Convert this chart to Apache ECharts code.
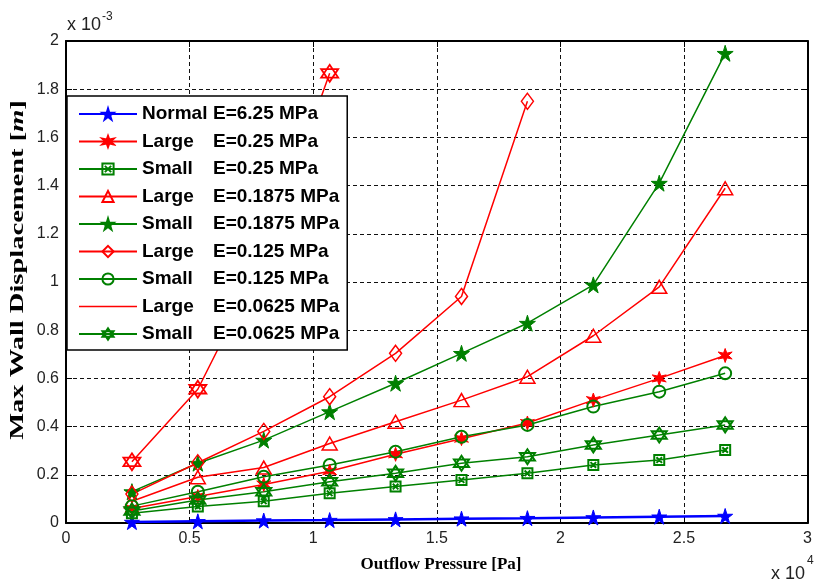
<!DOCTYPE html>
<html>
<head>
<meta charset="utf-8">
<script src="https://cdn.jsdelivr.net/npm/echarts@6/dist/echarts.min.js"></script>
<style>
  html, body { margin: 0; padding: 0; background: #fff; }
  #chart { width: 815px; height: 585px; }
</style>
</head>
<body>
<div id="chart"></div>
<script>
// Outflow pressure at each simulated step (units of 1e4 Pa)
const pressure = [0.2667, 0.5333, 0.8, 1.0667, 1.3333, 1.6, 1.8667, 2.1333, 2.4, 2.6667];

// Maximum wall displacement (units of 1e-3 m)
const normalE625   = [0.004, 0.007, 0.010, 0.012, 0.015, 0.018, 0.020, 0.023, 0.026, 0.029];
const largeE025    = [0.06, 0.11, 0.16, 0.215, 0.285, 0.35, 0.415, 0.51, 0.60, 0.695];
const smallE025    = [0.04, 0.068, 0.09, 0.123, 0.151, 0.178, 0.206, 0.241, 0.261, 0.303];
const largeE01875  = [0.09, 0.19, 0.23, 0.33, 0.42, 0.51, 0.607, 0.777, 0.98, 1.389];
const smallE01875  = [0.13, 0.248, 0.344, 0.462, 0.58, 0.704, 0.829, 0.988, 1.41, 1.949];
const largeE0125   = [0.12, 0.25, 0.38, 0.524, 0.704, 0.94, 1.75];
const smallE0125   = [0.07, 0.13, 0.192, 0.241, 0.296, 0.358, 0.407, 0.483, 0.545, 0.621];
const largeE00625  = [0.254, 0.555, 1.1, 1.866];
const smallE00625  = [0.05, 0.095, 0.13, 0.171, 0.206, 0.248, 0.275, 0.324, 0.365, 0.407];

// Legend entries, in plotting order
const seriesNames = [
  'Normal E=6.25 MPa',
  'Large E=0.25 MPa',
  'Small E=0.25 MPa',
  'Large E=0.1875 MPa',
  'Small E=0.1875 MPa',
  'Large E=0.125 MPa',
  'Small E=0.125 MPa',
  'Large E=0.0625 MPa',
  'Small E=0.0625 MPa'
];

// Axis ranges and steps
const xRange = [0, 3, 0.5];
const yRange = [0, 2, 0.2];

const RED = '#ff0000', GREEN = '#008000', BLUE = '#0000ff';

// Marker shapes
const PENTAGRAM = 'path://M50,0 L61,35 L98,35 L68,57 L79,91 L50,70 L21,91 L32,57 L2,35 L39,35 Z';
const HEXAGRAM = 'path://M50,0 L93.3,75 L6.7,75 Z M50,100 L6.7,25 L93.3,25 Z';
const ASTERISK = 'path://M50,0 L60,33 L93,25 L70,50 L93,75 L60,67 L50,100 L40,67 L7,75 L30,50 L7,25 L40,33 Z';
const BOXCROSS = 'path://M0,0 L100,0 L100,100 L0,100 Z M22,22 L78,78 M78,22 L22,78';
const PLAIN_LINE = 'path://M0,0 L58,0 L58,1.5 L0,1.5 Z';

const toPoints = vals => vals.map((v, i) => [pressure[i], v]);

function lineSeries(name, vals, color, opt) {
  return Object.assign({
    name: name,
    type: 'line',
    data: toPoints(vals),
    color: color,
    lineStyle: { color: color, width: 1.5 },
    symbol: 'none',
    symbolSize: 12,
    itemStyle: { color: 'rgba(0,0,0,0)', borderColor: color, borderWidth: 1.5 },
    emphasis: { disabled: true },
    z: 2
  }, opt);
}

const series = [
  lineSeries(seriesNames[0], normalE625, BLUE, {
    lineStyle: { color: BLUE, width: 2.5 },
    symbol: PENTAGRAM, symbolSize: 15,
    itemStyle: { color: BLUE, borderColor: BLUE, borderWidth: 1 }
  }),
  lineSeries(seriesNames[1], largeE025, RED, {
    symbol: ASTERISK, symbolSize: 14,
    itemStyle: { color: RED, borderColor: RED, borderWidth: 1 }
  }),
  lineSeries(seriesNames[2], smallE025, GREEN, {
    symbol: BOXCROSS, symbolSize: 10,
    itemStyle: { color: 'rgba(0,0,0,0)', borderColor: GREEN, borderWidth: 2 }
  }),
  lineSeries(seriesNames[3], largeE01875, RED, {
    symbol: 'triangle', symbolSize: [15, 13]
  }),
  lineSeries(seriesNames[4], smallE01875, GREEN, {
    symbol: PENTAGRAM, symbolSize: 16,
    itemStyle: { color: GREEN, borderColor: GREEN, borderWidth: 1 }
  }),
  lineSeries(seriesNames[5], largeE0125, RED, {
    symbol: 'diamond', symbolSize: [12, 16]
  }),
  lineSeries(seriesNames[6], smallE0125, GREEN, {
    symbol: 'circle', symbolSize: 12,
    itemStyle: { color: 'rgba(0,0,0,0)', borderColor: GREEN, borderWidth: 2 }
  }),
  lineSeries(seriesNames[7], largeE00625, RED, { symbol: 'none' }),
  lineSeries(seriesNames[8], smallE00625, GREEN, {
    symbol: HEXAGRAM, symbolSize: 15,
    itemStyle: { color: 'rgba(0,0,0,0)', borderColor: GREEN, borderWidth: 2 }
  }),
  // markers drawn on the softest large-vessel curve
  {
    name: 'Large E=0.0625 MPa points',
    type: 'scatter',
    data: toPoints(largeE00625),
    symbol: HEXAGRAM,
    symbolSize: 17,
    itemStyle: { color: 'rgba(0,0,0,0)', borderColor: RED, borderWidth: 1.8, opacity: 1 },
    emphasis: { disabled: true },
    z: 2
  }
];

// the softest large-vessel entry is shown in the legend as a bare line
const legendData = seriesNames.map(n => n === 'Large E=0.0625 MPa'
  ? { name: n, icon: PLAIN_LINE, itemStyle: { color: RED, borderWidth: 0 } }
  : { name: n });

const labelFont = { fontFamily: 'Liberation Sans', fontSize: 16, color: '#222' };
const fmt = v => String(+(+v).toFixed(2));

function axisBase(range, pos, showLabels) {
  return {
    type: 'value',
    position: pos,
    min: range[0], max: range[1], interval: range[2],
    axisLine: { show: true, onZero: false, lineStyle: { color: '#000', width: 2 } },
    axisTick: { show: true, inside: true, length: 6, lineStyle: { color: '#000', width: 1 } },
    axisLabel: Object.assign({ show: showLabels, margin: 8, formatter: fmt, showMinLabel: true, showMaxLabel: true }, labelFont),
    splitLine: showLabels
      ? { show: true, lineStyle: { color: '#111', width: 1, type: [4, 3] } }
      : { show: false }
  };
}

const chart = echarts.init(document.getElementById('chart'), null, { renderer: 'canvas' });

chart.setOption({
  animation: false,
  backgroundColor: '#fff',
  grid: { left: 66, right: 2, top: 41, bottom: 62 },
  xAxis: [axisBase(xRange, 'bottom', true), axisBase(xRange, 'top', false)],
  yAxis: [
    Object.assign(axisBase(yRange, 'left', true), { axisLabel: Object.assign({ show: true, margin: 7, formatter: fmt, showMinLabel: true, showMaxLabel: true }, labelFont) }),
    axisBase(yRange, 'right', false)
  ],
  legend: {
    data: legendData,
    orient: 'vertical',
    left: 67,
    top: 96,
    z: 10,
    padding: [7, 8, 5, 11],
    itemWidth: 58,
    itemHeight: 14,
    itemGap: 5.5,
    backgroundColor: '#fff',
    borderColor: '#000',
    borderWidth: 1.5,
    borderRadius: 0,
    selectedMode: false,
    formatter: name => {
      const cut = name.indexOf(' ');
      return '{n|' + name.slice(0, cut) + '}{e|' + name.slice(cut + 1) + '}';
    },
    textStyle: {
      fontFamily: 'Liberation Sans', fontWeight: 'bold', fontSize: 19, color: '#000', lineHeight: 22,
      rich: {
        n: { width: 71, fontFamily: 'Liberation Sans', fontWeight: 'bold', fontSize: 19, color: '#000', lineHeight: 22 },
        e: { fontFamily: 'Liberation Sans', fontWeight: 'bold', fontSize: 19, color: '#000', lineHeight: 22 }
      }
    }
  },
  graphic: [
    {
      type: 'text', x: 18, y: 270, rotation: Math.PI / 2, scaleX: 1.5, silent: true,
      style: {
        text: '{b|Max Wall Displacement [}{i|m}{b|]}',
        align: 'center', verticalAlign: 'middle',
        rich: {
          b: { fontFamily: 'Liberation Serif', fontWeight: 'bold', fontSize: 19, fill: '#000' },
          i: { fontFamily: 'Liberation Serif', fontWeight: 'bold', fontStyle: 'italic', fontSize: 19, fill: '#000' }
        }
      }
    },
    {
      type: 'text', x: 441, y: 565, silent: true,
      style: {
        text: 'Outflow Pressure [Pa]',
        align: 'center', verticalAlign: 'middle',
        fontFamily: 'Liberation Serif', fontWeight: 'bold', fontSize: 17, fill: '#000'
      }
    },
    {
      type: 'text', x: 67, y: 25, silent: true,
      style: { text: 'x 10', align: 'left', verticalAlign: 'middle', fontFamily: 'Liberation Sans', fontSize: 18, fill: '#222' }
    },
    {
      type: 'text', x: 102, y: 17, silent: true,
      style: { text: '-3', align: 'left', verticalAlign: 'middle', fontFamily: 'Liberation Sans', fontSize: 12, fill: '#222' }
    },
    {
      type: 'text', x: 771, y: 574, silent: true,
      style: { text: 'x 10', align: 'left', verticalAlign: 'middle', fontFamily: 'Liberation Sans', fontSize: 18, fill: '#222' }
    },
    {
      type: 'text', x: 807, y: 561, silent: true,
      style: { text: '4', align: 'left', verticalAlign: 'middle', fontFamily: 'Liberation Sans', fontSize: 12, fill: '#222' }
    }
  ],
  series: series
});
</script>
</body>
</html>
